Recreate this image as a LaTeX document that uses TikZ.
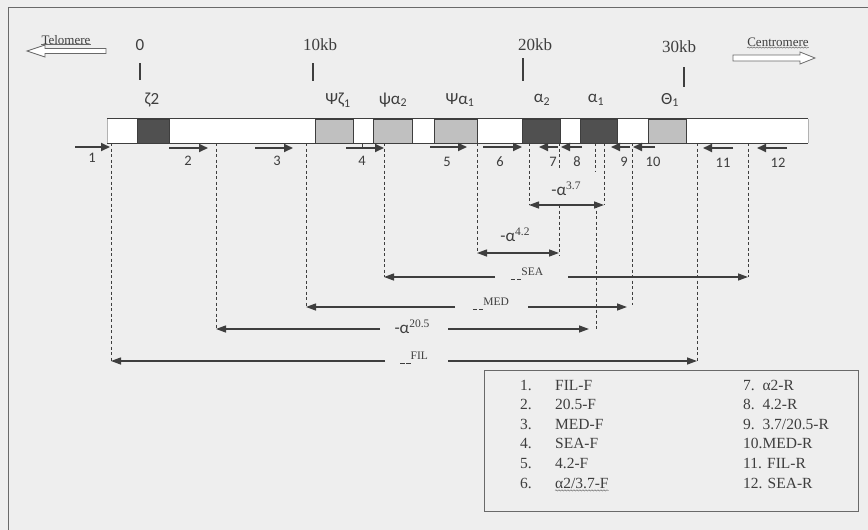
\documentclass[tikz,border=0pt]{standalone}
\usepackage{fontspec}
\setmainfont{Liberation Serif}
\newfontfamily\carl{Carlito}
\usetikzlibrary{arrows.meta,decorations.pathmorphing}
\definecolor{bgc}{RGB}{238,238,238}
\definecolor{ink}{RGB}{62,62,62}
\definecolor{darkbox}{RGB}{80,80,80}
\definecolor{lightbox}{RGB}{192,192,192}
\definecolor{framec}{RGB}{105,105,105}
\newcommand\myamp[1]{{\carl\fontsize{17}{17}\selectfont -α}\raisebox{6pt}{\fontsize{11.5}{11.5}\selectfont #1}}
\newcommand\mydash[1]{\rule[-1pt]{4.5pt}{0.9pt}\hspace{1.5pt}\rule[-1pt]{4.5pt}{0.9pt}\raisebox{4pt}{\fontsize{11.5}{11.5}\selectfont #1}}
\begin{document}
\begin{tikzpicture}[x=1pt,y=-1pt,
  primer/.style={line width=1.8pt, draw=ink, -{Triangle[length=9pt,width=8pt]}},
  guide/.style={draw=ink, line width=1pt, dash pattern=on 3pt off 2.5pt},
  amp/.style={draw=ink, line width=1.3pt, -{Triangle[length=10pt,width=7pt]}},
  ampboth/.style={draw=ink, line width=1.3pt, {Triangle[length=10pt,width=7pt]}-{Triangle[length=10pt,width=7pt]}},
  gene/.style={font=\carl\fontsize{17}{17}\selectfont, inner sep=0pt, text=ink},
  num/.style={font=\carl\fontsize{14.5}{14.5}\selectfont, inner sep=0pt, text=ink},
  kb/.style={font=\fontsize{17}{17}\selectfont, inner sep=0pt, text=ink},
  lbl/.style={inner sep=0pt, text=ink},
  genebox/.style={draw=ink, line width=0.8pt, fill=#1, minimum height=24pt, inner sep=0pt, anchor=west},
  legtxt/.style={font=\fontsize{15.5}{15.5}\selectfont, anchor=base west, inner sep=0pt, text=ink},
  tickl/.style={draw=ink, line width=1.1pt},
  hollow/.style={draw=framec, line width=0.8pt, fill=white}
]
\useasboundingbox (0,0) rectangle (868,530);
\fill[bgc] (0,0) rectangle (868,530);
\draw[framec, line width=1pt] (8,540) -- (8,7) -- (880,7);

% telomere / centromere
\node[lbl, font=\fontsize{13}{13}\selectfont] (tel) at (66,40) {Telomere};
\draw[framec, line width=0.6pt] (tel.south west) -- (tel.south east);
\draw[hollow] (27,51) -- (45,45) -- (45,48.5) -- (106,48.5) -- (106,53.5) -- (45,53.5) -- (45,57) -- cycle;
\node[lbl, font=\fontsize{13}{13}\selectfont] (cen) at (778,42) {Centromere};
\draw[framec, line width=0.5pt, decorate, decoration={snake, amplitude=0.6pt, segment length=3pt}] ([yshift=-1pt]cen.south west) -- ([yshift=-1pt]cen.south east);
\draw[hollow] (733,55) -- (800,55) -- (800,52) -- (815,58) -- (800,64) -- (800,61) -- (733,61) -- cycle;

% scale
\node[gene] (k0) at (140,45) {0};
\node[kb] (k10) at (320,45) {10kb};
\node[kb] (k20) at (535,45) {20kb};
\node[kb] (k30) at (679,47) {30kb};
\coordinate (t0a) at (140,63); \coordinate (t0b) at (140,80);
\coordinate (t1a) at (313,63); \coordinate (t1b) at (313,81);
\coordinate (t2a) at (523,58); \coordinate (t2b) at (523,81);
\coordinate (t3a) at (684,67); \coordinate (t3b) at (684,87);
\draw[tickl] (t0a) -- (t0b);
\draw[tickl] (t1a) -- (t1b);
\draw[tickl] (t2a) -- (t2b);
\draw[tickl] (t3a) -- (t3b);

% gene labels
\node[gene] (gz2) at (152,100) {ζ2};
\node[gene] (gpz1) at (338,100) {Ψζ\textsubscript{1}};
\node[gene] (gpa2) at (393,100) {ψα\textsubscript{2}};
\node[gene] (gpa1) at (460,100) {Ψα\textsubscript{1}};
\node[gene] (ga2) at (542,100) {α\textsubscript{2}};
\node[gene] (ga1) at (596,100) {α\textsubscript{1}};
\node[gene] (gt1) at (670,100) {Θ\textsubscript{1}};

% chromosome bar
\node[fill=white, minimum width=701pt, minimum height=24pt, inner sep=0pt, anchor=west] (bar) at (107,131) {};
\draw[ink, line width=1pt] (bar.north west) -- (bar.north east);
\draw[ink, line width=1pt] (bar.south west) -- (bar.south east);
\draw[gray!60, line width=0.6pt] (bar.north west) -- (bar.south west);
\draw[gray!60, line width=0.6pt] (bar.north east) -- (bar.south east);

\node[genebox=darkbox, minimum width=32pt] (bz2) at (137,131) {};
\node[genebox=lightbox, minimum width=38pt] (bpz1) at (315,131) {};
\node[genebox=lightbox, minimum width=39pt] (bpa2) at (373,131) {};
\node[genebox=lightbox, minimum width=43pt] (bpa1) at (434,131) {};
\node[genebox=darkbox, minimum width=38pt] (ba2) at (522,131) {};
\node[genebox=darkbox, minimum width=37pt] (ba1) at (580,131) {};
\node[genebox=lightbox, minimum width=38pt] (bt1) at (648,131) {};

% primers
\coordinate (p1a) at (75,147);  \coordinate (p1b) at (110,147);
\coordinate (p2a) at (169,148); \coordinate (p2b) at (208,148);
\coordinate (p3a) at (255,148); \coordinate (p3b) at (293,148);
\coordinate (p4a) at (346,148); \coordinate (p4b) at (384,148);
\coordinate (p5a) at (430,147); \coordinate (p5b) at (467,147);
\coordinate (p6a) at (483,147); \coordinate (p6b) at (522,147);
\coordinate (p7a) at (558,147); \coordinate (p7b) at (539,147);
\coordinate (p8a) at (582,147); \coordinate (p8b) at (561,147);
\coordinate (p9a) at (630,147); \coordinate (p9b) at (611,147);
\coordinate (p10a) at (655,147); \coordinate (p10b) at (633,147);
\coordinate (p11a) at (733,148); \coordinate (p11b) at (703,148);
\coordinate (p12a) at (787,148); \coordinate (p12b) at (757,148);
\foreach \i in {1,...,12} {\draw[primer] (p\i a) -- (p\i b);}
\coordinate (tk4a) at (362,143); \coordinate (tk4b) at (362,148);
\draw[ink, line width=0.8pt] (tk4a) -- (tk4b);

\node[num] (n1) at (92,158) {1};
\node[num] (n2) at (188,161) {2};
\node[num] (n3) at (277,161) {3};
\node[num] (n4) at (362,161) {4};
\node[num] (n5) at (447,162) {5};
\node[num] (n6) at (500,162) {6};
\node[num] (n7) at (553,162) {7};
\node[num] (n8) at (577,162) {8};
\node[num] (n9) at (624,162) {9};
\node[num] (n10) at (653,162) {10};
\node[num] (n11) at (723,163) {11};
\node[num] (n12) at (778,163) {12};

% guide lines
\coordinate (gFILa) at (111,143); \coordinate (gFILb) at (111,361);
\coordinate (g20a) at (216,143);  \coordinate (g20b) at (216,329);
\coordinate (gMEDa) at (306,143); \coordinate (gMEDb) at (306,307);
\coordinate (gSEAa) at (384,143); \coordinate (gSEAb) at (384,277);
\coordinate (g42a) at (477,143);  \coordinate (g42b) at (477,253);
\coordinate (g37a) at (529,143);  \coordinate (g37b) at (529,205);
\coordinate (g7a) at (559,143);   \coordinate (g7b) at (559,168);
\coordinate (g42c) at (559,205);  \coordinate (g42d) at (559,256);
\coordinate (g9a) at (595,143);   \coordinate (g9b) at (595,172);
\coordinate (g20c) at (596,205);  \coordinate (g20d) at (596,329);
\coordinate (g37c) at (604,143);  \coordinate (g37d) at (604,205);
\coordinate (gMEDc) at (632,143); \coordinate (gMEDd) at (632,305);
\coordinate (gFILc) at (697,143); \coordinate (gFILd) at (697,361);
\coordinate (gSEAc) at (748,143); \coordinate (gSEAd) at (748,277);
\foreach \p/\q in {gFILa/gFILb, g20a/g20b, gMEDa/gMEDb, gSEAa/gSEAb, g42a/g42b, g37a/g37b, g7a/g7b, g42c/g42d, g9a/g9b, g20c/g20d, g37c/g37d, gMEDc/gMEDd, gFILc/gFILd, gSEAc/gSEAd}
  {\draw[guide] (\p) -- (\q);}

% amplicons
\node[lbl] (l37) at (566,189) {\myamp{3.7}};
\draw[ampboth] (g37b) -- (g37d);
\node[lbl] (l42) at (515,235) {\myamp{4.2}};
\draw[ampboth] (g42b) -- (g42d |- g42b);

\node[lbl] (lSEA) at (527,274) {\mydash{SEA}};
\coordinate (sea1) at (495,277); \coordinate (sea2) at (568,277);
\draw[amp] (sea1) -- (gSEAb);
\draw[amp] (sea2) -- (gSEAd);

\node[lbl] (lMED) at (491,304) {\mydash{MED}};
\coordinate (med1) at (455,307); \coordinate (med2) at (528,307);
\coordinate (medR) at (627,307);
\draw[amp] (med1) -- (gMEDb);
\draw[amp] (med2) -- (medR);

\node[lbl] (l205) at (412,327) {\myamp{20.5}};
\coordinate (a1) at (380,329); \coordinate (a2) at (448,329);
\coordinate (aR) at (589,329);
\draw[amp] (a1) -- (g20b);
\draw[amp] (a2) -- (aR);

\node[lbl] (lFIL) at (414,358) {\mydash{FIL}};
\coordinate (f1) at (385,361); \coordinate (f2) at (448,361);
\draw[amp] (f1) -- (gFILb);
\draw[amp] (f2) -- (gFILd);

% legend
\node[draw=framec, line width=0.8pt, minimum width=374pt, minimum height=141pt, anchor=north west, inner sep=0pt] (leg) at (484,370) {};
\foreach \k/\t [count=\r from 0] in {1/FIL-F, 2/20.5-F, 3/MED-F, 4/SEA-F, 5/4.2-F}
  {\node[legtxt, anchor=base east] (ln\k) at (532,390+19.6*\r) {\k.};
   \node[legtxt] (lt\k) at (555,390+19.6*\r) {\t};}
\node[legtxt, anchor=base east] (ln6) at (532,488) {6.};
\node[legtxt] (lt6) at (555,488) {α2/3.7-F};
\draw[framec, line width=0.5pt, decorate, decoration={snake, amplitude=0.6pt, segment length=3pt}] ([yshift=-2pt]lt6.south west) -- ([yshift=-2pt]lt6.south east);
\node[legtxt] (lr7) at (743,390) {7.\ \ α2-R};
\node[legtxt] (lr8) at (743,409.6) {8.\ \ 4.2-R};
\node[legtxt] (lr9) at (743,429.2) {9.\ \ 3.7/20.5-R};
\node[legtxt] (lr10) at (743,448.8) {10.MED-R};
\node[legtxt] (lr11) at (743,468.4) {11. FIL-R};
\node[legtxt] (lr12) at (743,488) {12. SEA-R};
\end{tikzpicture}
\end{document}
